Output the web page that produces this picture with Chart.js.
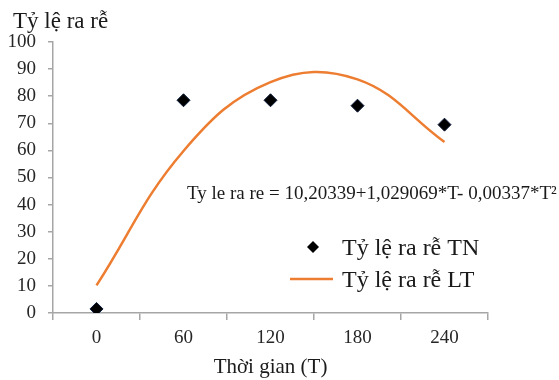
<!DOCTYPE html>
<html>
<head>
<meta charset="utf-8">
<script src="https://cdn.jsdelivr.net/npm/chart.js@4/dist/chart.umd.min.js"></script>
<style>
  html, body { margin: 0; padding: 0; background: #fff; }
  #wrap { width: 559px; height: 380px; }
</style>
</head>
<body>
<div id="wrap"><canvas id="root_chart" width="559" height="380"></canvas></div>
<script>
// du lieu doc tu hinh
const times = ['0', '60', '120', '180', '240'];
const tnValues = [1.5, 78.5, 78.5, 76.5, 69.5];       // thuc nghiem
const ltValues = [10.2, 59.8, 85.2, 86.2, 63.1];      // ly thuyet
const yTicks = [0, 10, 20, 30, 40, 50, 60, 70, 80, 90, 100];
const yTitle = 'Tỷ lệ ra rễ';
const xTitle = 'Thời gian (T)';
const equation = 'Ty le ra re = 10,20339+1,029069*T- 0,00337*T²';

const serif = '"Liberation Serif", "Times New Roman", serif';
const orange = '#ED7D31';
const axisGray = '#A6A6A6';

// ve chu thich, tieu de truc tung va phuong trinh
const extras = {
  id: 'extras',
  afterDraw(chart) {
    const ctx = chart.ctx;
    ctx.save();
    ctx.fillStyle = '#1a1a1a';
    ctx.textBaseline = 'alphabetic';
    ctx.textAlign = 'left';

    ctx.font = '23px ' + serif;
    ctx.fillText(yTitle, 13, 28);

    ctx.font = '19px ' + serif;
    ctx.fillText(equation, 187, 199);

    // legend
    const ds = chart.data.datasets;
    ctx.fillStyle = '#000';
    ctx.beginPath();
    ctx.moveTo(313, 241); ctx.lineTo(319, 247); ctx.lineTo(313, 253); ctx.lineTo(307, 247);
    ctx.closePath();
    ctx.fill();
    ctx.font = '24px ' + serif;
    ctx.fillStyle = '#1a1a1a';
    ctx.fillText(ds[0].label, 342, 255);

    ctx.strokeStyle = orange;
    ctx.lineWidth = 2.5;
    ctx.beginPath();
    ctx.moveTo(290, 279); ctx.lineTo(333, 279);
    ctx.stroke();
    ctx.fillText(ds[1].label, 342, 287);
    ctx.restore();
  }
};

new Chart(document.getElementById('root_chart'), {
  type: 'line',
  data: {
    labels: times,
    datasets: [
      {
        label: 'Tỷ lệ ra rễ TN',
        data: tnValues,
        showLine: false,
        pointStyle: 'rectRot',
        pointRadius: 6.5,
        pointBackgroundColor: '#000',
        pointBorderColor: '#0a1a3a',
        pointBorderWidth: 1
      },
      {
        label: 'Tỷ lệ ra rễ LT',
        data: ltValues,
        borderColor: orange,
        borderWidth: 2.5,
        pointRadius: 0,
        tension: 0.4,
        fill: false
      }
    ]
  },
  plugins: [extras],
  options: {
    responsive: false,
    animation: false,
    layout: { padding: { left: 0, top: 42, right: 71, bottom: 0 } },
    plugins: {
      legend: { display: false },
      tooltip: { enabled: false }
    },
    scales: {
      x: {
        type: 'category',
        offset: true,
        grid: {
          offset: true,
          drawOnChartArea: false,
          drawTicks: true,
          tickLength: 7,
          color: axisGray,
          lineWidth: 1.5
        },
        border: { color: axisGray, width: 1.5 },
        ticks: {
          padding: 7,
          color: '#262626',
          font: { family: serif, size: 19 }
        },
        title: {
          display: true,
          text: xTitle,
          color: '#1a1a1a',
          font: { family: serif, size: 21 },
          padding: { top: 2, bottom: 0 }
        },
        afterFit(scale) { scale.height = 67; }
      },
      y: {
        min: 0,
        max: 100,
        afterBuildTicks(scale) { scale.ticks = yTicks.map(v => ({ value: v })); },
        grid: {
          drawOnChartArea: false,
          drawTicks: true,
          tickLength: 5,
          color: axisGray,
          lineWidth: 1.5
        },
        border: { color: axisGray, width: 1.5 },
        ticks: {
          padding: 12,
          color: '#262626',
          font: { family: serif, size: 19 }
        },
        afterFit(scale) { scale.width = 53; }
      }
    }
  }
});
</script>
</body>
</html>
